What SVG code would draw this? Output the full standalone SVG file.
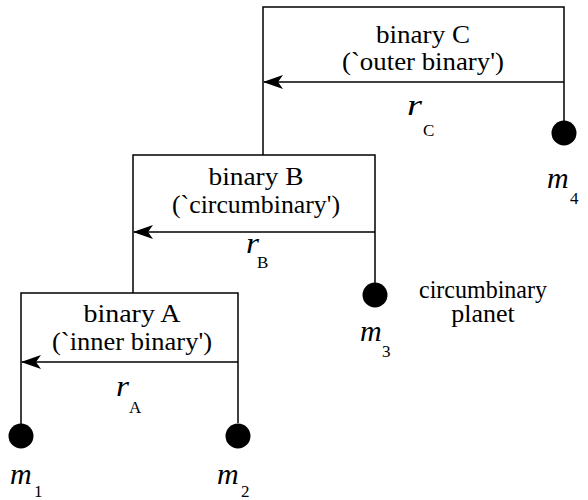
<svg xmlns="http://www.w3.org/2000/svg" width="588" height="500" viewBox="0 0 588 500">
<defs>
<style>
.ln{fill:none;stroke:#000;stroke-width:1.5}
.body{fill:#000;stroke:none}
.lab{font-family:'Liberation Serif','Times New Roman',serif;font-size:26px;fill:#000;text-anchor:middle}
.var{font-family:'Liberation Serif','Times New Roman',serif;font-size:30px;font-style:italic;fill:#000}
.sub{font-family:'Liberation Serif','Times New Roman',serif;font-size:17px;fill:#000}
</style>
<marker id="arr" viewBox="0 0 20 14" refX="19" refY="7" markerWidth="20" markerHeight="14" markerUnits="userSpaceOnUse" orient="auto">
<path d="M20,7 L0,0 L5,7 L0,14 Z" fill="#000"/>
</marker>
</defs>
<rect width="588" height="500" fill="#fff"/>
<g id="connectors">
<path class="ln" d="M263,155 V7 H564 V121"/>
<path class="ln" d="M133,293 V155 H375 V283"/>
<path class="ln" d="M21,425 V293 H238 V423"/>
<line class="ln" x1="564" y1="82" x2="264" y2="82" marker-end="url(#arr)"/>
<line class="ln" x1="375" y1="232" x2="134" y2="232" marker-end="url(#arr)"/>
<line class="ln" x1="238" y1="362" x2="22" y2="362" marker-end="url(#arr)"/>
</g>
<g id="binaryC">
<text class="lab" x="423" y="43" textLength="94" lengthAdjust="spacingAndGlyphs">binary C</text>
<text class="lab" x="423" y="70" textLength="162" lengthAdjust="spacingAndGlyphs">(`outer binary')</text>
<text class="var" x="407" y="115" textLength="15" lengthAdjust="spacingAndGlyphs">r</text><text class="sub" x="423" y="136">C</text>
</g>
<g id="binaryB">
<text class="lab" x="256" y="185" textLength="95" lengthAdjust="spacingAndGlyphs">binary B</text>
<text class="lab" x="256" y="213" textLength="168" lengthAdjust="spacingAndGlyphs">(`circumbinary')</text>
<text class="var" x="246" y="253" textLength="13" lengthAdjust="spacingAndGlyphs">r</text><text class="sub" x="257" y="268">B</text>
</g>
<g id="binaryA">
<text class="lab" x="132" y="322" textLength="97" lengthAdjust="spacingAndGlyphs">binary A</text>
<text class="lab" x="132" y="350" textLength="160" lengthAdjust="spacingAndGlyphs">(`inner binary')</text>
<text class="var" x="116" y="396" textLength="13" lengthAdjust="spacingAndGlyphs">r</text><text class="sub" x="129" y="413">A</text>
</g>
<g id="m4">
<circle class="body" cx="564" cy="133" r="12.5"/>
<text class="var" x="547" y="188">m</text><text class="sub" x="570" y="204">4</text>
</g>
<g id="m3">
<circle class="body" cx="375" cy="295" r="12.5"/>
<text class="var" x="360" y="341">m</text><text class="sub" x="382" y="357">3</text>
</g>
<g id="m1">
<circle class="body" cx="21" cy="436" r="12.5"/>
<text class="var" x="10" y="484">m</text><text class="sub" x="34" y="497">1</text>
</g>
<g id="m2">
<circle class="body" cx="238" cy="436" r="12.5"/>
<text class="var" x="217" y="484">m</text><text class="sub" x="241" y="497">2</text>
</g>
<g id="planet">
<text class="lab" x="483" y="298" font-size="23" textLength="128" lengthAdjust="spacingAndGlyphs">circumbinary</text>
<text class="lab" x="483" y="322" font-size="23">planet</text>
</g>
</svg>
